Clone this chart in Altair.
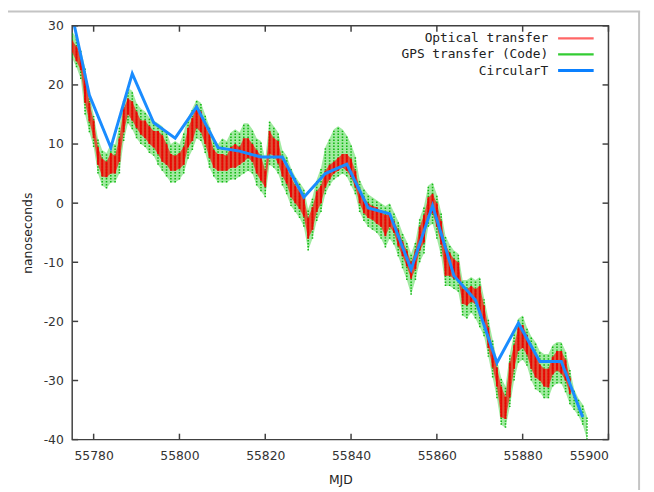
import altair as alt
import pandas as pd

# ---------------- data ----------------
red_start = 55775
red_lo = [25.5, 24, 22.5, 17, 13.8, 11, 6.5, 4.5, 4.4, 5,
          5, 7, 12, 15, 14, 12.7, 11.6, 11, 10, 9.4,
          8.3, 7, 6.5, 5.5, 5.5, 5.8, 6.5, 9.4, 10.5, 12.7,
          12, 10, 7.7, 6, 5.5, 5.5, 5.5, 6, 6, 6.5,
          7, 7.7, 7, 5, 3.8, 2.7, 8.3, 8, 6.7, 4.5,
          3.3, 1, 0, -1, -2.3, -6, -4.5, -1.5, 0, 2.7,
          4, 5, 5.5, 6, 5.5, 4.4, 2.7, 0, -1.7, -2.5,
          -2.8, -3.5, -4, -5.6, -4, -5, -7.3, -9, -10.7, -12.8,
          -11.2, -8, -6.7, -2, -1.7, -4, -7, -12.3, -12.3, -12.8,
          -13, -17, -17.3, -16.7, -17, -19, -20.6, -24.5, -27.8, -31,
          -36.2, -36.5, -32.8, -28, -25, -24.5, -25.6, -28, -29.5, -30,
          -31, -31.2, -29, -28.3, -28.8, -30, -32.3]
red_hi = [27.5, 26.5, 25, 22, 17, 14, 9.5, 7.5, 7, 8.5,
          8, 11, 16, 17.7, 17.2, 15.5, 14, 14, 13, 12.2,
          12.2, 11.5, 10, 8.3, 8, 8.5, 9.5, 12.7, 14.4, 16.6,
          15.5, 13, 11.6, 9, 8.3, 8.3, 8, 9.5, 10, 9.5,
          11, 11, 10, 9, 8, 5.5, 12.2, 11, 10.5, 7.2,
          6, 4.4, 3, 2, 1, -2.5, -0.7, 2, 3, 5.5,
          6.5, 7, 7.7, 8.3, 8.3, 7.5, 5.5, 2.5, 1, 0,
          -0.5, -0.7, -1.5, -2, -1.7, -3, -4.5, -6.5, -8, -10,
          -8, -4, -2, 1, 1.6, 0, -3, -7, -8.4, -9.5,
          -10, -14.5, -14.5, -14, -14.5, -14, -17.3, -21, -24.5, -27.8,
          -31, -32.8, -27, -24, -21, -20.6, -22.3, -24.5, -25.6, -27.3,
          -28, -28, -26, -25, -25, -26.5, -29.5]

green_start = 55775
green_lo = [24.5, 23, 21, 15, 12, 9.5, 5, 3, 2.5, 3.5,
            3.5, 5, 10.5, 13.5, 12.5, 11, 10, 9.5, 8.5, 8,
            6.5, 5.5, 4.5, 3.5, 3.5, 4, 5, 7.5, 9, 11,
            10.5, 8.5, 6, 4.5, 3.5, 3.5, 3.5, 4, 4, 4.5,
            5, 5.5, 5, 3, 2, 1, 6.5, 6, 5, 3,
            1.5, -0.5, -1.5, -2.5, -4, -8, -6, -3, -1.5, 1.5,
            3, 4, 4.5, 5, 4.5, 3, 1.5, -1.5, -3, -4,
            -4.5, -5, -6, -7.5, -6, -7, -9, -11, -13, -15.5,
            -13, -10, -8.5, -4, -3.5, -6, -9, -14, -14, -14.5,
            -15, -19, -19.5, -18.5, -19.5, -21, -22.5, -26, -29.5, -33,
            -37.5, -38, -34.5, -30, -27, -26.5, -27.5, -30, -31.5, -32,
            -33, -33, -31, -30.5, -30.5, -32, -34, -35, -36, -37.5, -40]
green_hi = [29, 28, 26, 23, 18.5, 15, 11, 9, 8.5, 10,
            10, 13, 17.5, 19.5, 19, 17, 16, 15.5, 14.5, 14,
            13.5, 13, 12, 10, 10.5, 10, 12, 14.5, 16, 17.5,
            17, 15, 13, 11, 10, 11, 10.5, 12, 12.5, 12,
            13.5, 13.5, 12.5, 11, 10.5, 7.5, 14, 13, 12, 9,
            8, 6, 4.5, 3.5, 2.5, -1, 1, 4, 6, 9.5,
            11, 12.5, 13, 12.5, 11.5, 10, 8, 4, 2.5, 1.5,
            1, 0.5, 0, -0.5, 0, -1.5, -3, -5, -6.5, -8.5,
            -6.5, -2.5, -0.5, 3, 3.5, 1.5, -1.5, -5.5, -7, -8,
            -8.5, -13, -13, -12.5, -13, -12.5, -16, -19.5, -23, -26.5,
            -29.5, -31, -25.5, -22, -19.5, -19, -21, -22.5, -23.5, -25,
            -25.5, -25.5, -24, -23.5, -23.5, -25, -28, -31.5, -33, -34, -36]

circ_mjd = [55774, 55779, 55784, 55789, 55794, 55799, 55804, 55809, 55814,
            55819, 55824, 55829, 55834, 55839, 55844, 55849, 55854, 55859,
            55864, 55869, 55874, 55879, 55884, 55889, 55894]
circ_val = [35.1, 18.3, 9.4, 21.9, 13.6, 11.0, 16.3, 9.4, 8.8,
            7.8, 7.8, 1.0, 5.0, 6.6, -0.8, -1.8, -11.2, -0.4,
            -12.3, -16.4, -27.0, -20.3, -26.8, -26.8, -36.2]

x_ticks = [55780, 55800, 55820, 55840, 55860, 55880, 55900]
y_ticks = [-40, -30, -20, -10, 0, 10, 20, 30]
legend_labels = ["Optical transfer", "GPS transfer (Code)", "CircularT"]

# ---------------- tables ----------------
red_df = pd.DataFrame({"mjd": [red_start + i for i in range(len(red_lo))],
                       "lo": red_lo, "hi": red_hi})
green_df = pd.DataFrame({"mjd": [green_start + i for i in range(len(green_lo))],
                         "lo": green_lo, "hi": green_hi})
circ_df = pd.DataFrame({"mjd": circ_mjd, "val": circ_val})
xt_df = pd.DataFrame({"t": x_ticks})
yt_df = pd.DataFrame({"t": y_ticks})

W, H = 543, 419
LABEL_FONT = "DejaVu Sans"
AX_COL = "#404040"

xs = alt.Scale(domain=[55775, 55900], nice=False, zero=False)
ys = alt.Scale(domain=[-40, 30], nice=False, zero=False)

x_axis = alt.Axis(title="MJD", values=x_ticks, labelExpr="toString(datum.value)",
                  grid=False, ticks=False,
                  tickSize=0, domain=False, labelPadding=10, titlePadding=12,
                  labelFont=LABEL_FONT, labelFontSize=12.5, labelColor="#333",
                  titleFont=LABEL_FONT, titleFontSize=12.5, titleFontWeight="normal",
                  titleColor="#222")
y_axis = alt.Axis(title="nanoseconds", values=y_ticks, labelExpr="toString(datum.value)",
                  grid=False, ticks=False,
                  tickSize=0, domain=False, labelPadding=9, titlePadding=9,
                  labelFont=LABEL_FONT, labelFontSize=12.5, labelColor="#333",
                  titleFont=LABEL_FONT, titleFontSize=12.5, titleFontWeight="normal",
                  titleColor="#222")

X = lambda f: alt.X(f, type="quantitative", scale=xs, axis=x_axis)
Y = lambda f: alt.Y(f, type="quantitative", scale=ys, axis=y_axis)

green_band = alt.Chart(green_df).mark_area(
    color="#22cc22", opacity=0.42, clip=True
).encode(x=X("mjd"), y=Y("lo"), y2="hi")

green = alt.Chart(green_df).mark_rule(
    color="#00b400", strokeWidth=1.6, strokeDash=[1.5, 1.5], opacity=0.9, clip=True
).encode(x=X("mjd"), y=Y("lo"), y2="hi")

red_band = alt.Chart(red_df).mark_area(
    color="#ff0000", opacity=0.65, clip=True
).encode(x=X("mjd"), y=Y("lo"), y2="hi")

red = alt.Chart(red_df).mark_rule(
    color="#ee0000", strokeWidth=2, opacity=0.9, clip=True
).encode(x=X("mjd"), y=Y("lo"), y2="hi")

blue = alt.Chart(circ_df).mark_line(
    color="#1a8cff", strokeWidth=3, clip=True
).encode(x=X("mjd"), y=Y("val"))

tick_style = dict(color=AX_COL, strokeWidth=1.5)
t_bottom = alt.Chart(xt_df).mark_rule(**tick_style).encode(
    x=X("t"), y=alt.value(H), y2=alt.value(H - 6))
t_top = alt.Chart(xt_df).mark_rule(**tick_style).encode(
    x=X("t"), y=alt.value(0), y2=alt.value(6))
t_left = alt.Chart(yt_df).mark_rule(**tick_style).encode(
    y=Y("t"), x=alt.value(0), x2=alt.value(6))
t_right = alt.Chart(yt_df).mark_rule(**tick_style).encode(
    y=Y("t"), x=alt.value(W), x2=alt.value(W - 6))

# legend (gnuplot style: label left of sample line)
leg_colors = ["#ff6666", "#33cc33", "#0a80ff"]
leg_widths = [2.2, 2.2, 3]
leg_y = [12.7, 29, 45.3]
legend_layers = []
for lab, col, wd, yy in zip(legend_labels, leg_colors, leg_widths, leg_y):
    d = pd.DataFrame({"label": [lab]})
    legend_layers.append(
        alt.Chart(d).mark_text(align="right", baseline="middle", font="DejaVu Sans Mono",
                               fontSize=13, color="#222").encode(
            text="label:N", x=alt.value(482), y=alt.value(yy)))
    legend_layers.append(
        alt.Chart(d).mark_rule(color=col, strokeWidth=wd).encode(
            x=alt.value(492), x2=alt.value(528), y=alt.value(yy)))

# outer frame lines (screenshot border)
one = pd.DataFrame({"a": [0]})
frame_top = alt.Chart(one).mark_rule(color="#c4c4c4", strokeWidth=2).encode(
    x=alt.value(-66), x2=alt.value(575), y=alt.value(-14.5))
frame_right = alt.Chart(one).mark_rule(color="#c4c4c4", strokeWidth=2).encode(
    x=alt.value(574), y=alt.value(-15), y2=alt.value(470))

chart = alt.layer(
    green_band, green, red_band, red, blue, t_bottom, t_top, t_left, t_right,
    *legend_layers, frame_top, frame_right
).properties(
    width=W, height=H,
    autosize=alt.AutoSizeParams(type="none"),
    padding={"left": 65, "top": 15, "right": 38, "bottom": 50},
    background="white",
).configure_view(
    stroke=AX_COL, strokeWidth=1.5
)

chart.save("out.html", embed_options={"renderer": "svg", "actions": False})
